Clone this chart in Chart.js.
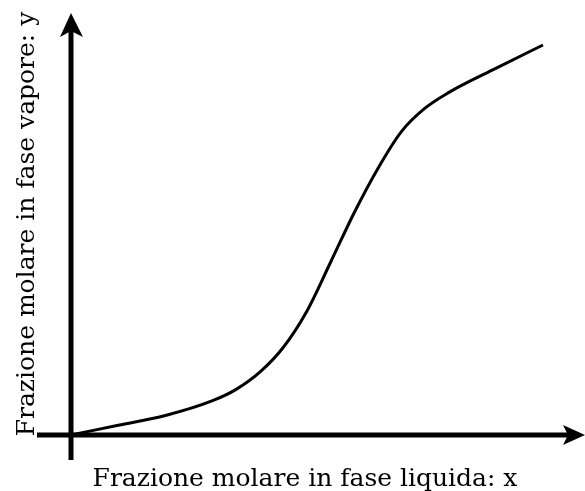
<!DOCTYPE html>
<html>
<head>
<meta charset="utf-8">
<title>Equilibrio liquido-vapore</title>
<script src="https://cdn.jsdelivr.net/npm/chart.js@4"></script>
<style>
  html, body { margin: 0; padding: 0; background: #fff; }
  #wrap { width: 585px; height: 491px; }
</style>
</head>
<body>
<div id="wrap"><canvas id="xyChart" width="585" height="491"></canvas></div>
<script>
// curve, x = liquid fraction, y = vapour fraction
const xLiquid = [0, 0.1, 0.2, 0.3, 0.35, 0.4, 0.45, 0.5, 0.55, 0.6, 0.65, 0.7, 0.75, 0.8, 0.9, 1];
const yVapour = [0, 0.025, 0.05, 0.088, 0.117, 0.161, 0.225, 0.318, 0.443, 0.57, 0.683, 0.778, 0.838, 0.878, 0.94, 1];

const xTitle = 'Frazione molare in fase liquida: x';
const yTitle = 'Frazione molare in fase vapore: y';

// how far the hand-drawn axes run past the origin
const xAxisStart = -0.072;
const yAxisStart = -0.064;
const yAxisTip = 1.082;

const points = xLiquid.map((x, i) => ({ x: x, y: yVapour[i] }));

// thick axes with arrow heads at value 0 of each scale, plus the two labels
const arrowAxes = {
  id: 'arrowAxes',
  afterDatasetsDraw(chart) {
    const ctx = chart.ctx;
    const xs = chart.scales.x;
    const ys = chart.scales.y;
    const ox = xs.getPixelForValue(0);
    const oy = ys.getPixelForValue(0);
    const xEnd = chart.width;
    const yEnd = ys.getPixelForValue(yAxisTip);

    ctx.save();
    ctx.fillStyle = '#000';
    ctx.strokeStyle = '#000';
    ctx.lineWidth = 5;
    ctx.lineCap = 'butt';

    ctx.beginPath();
    ctx.moveTo(xs.getPixelForValue(xAxisStart), oy);
    ctx.lineTo(xEnd - 12, oy);
    ctx.stroke();

    ctx.beginPath();
    ctx.moveTo(ox, ys.getPixelForValue(yAxisStart));
    ctx.lineTo(ox, yEnd + 14);
    ctx.stroke();

    // arrow on x
    ctx.beginPath();
    ctx.moveTo(xEnd, oy);
    ctx.lineTo(xEnd - 22, oy - 10);
    ctx.lineTo(xEnd - 17, oy);
    ctx.lineTo(xEnd - 22, oy + 10);
    ctx.closePath();
    ctx.fill();

    // arrow on y
    ctx.beginPath();
    ctx.moveTo(ox, yEnd);
    ctx.lineTo(ox - 11, yEnd + 24);
    ctx.lineTo(ox, yEnd + 18);
    ctx.lineTo(ox + 12, yEnd + 24);
    ctx.closePath();
    ctx.fill();

    // axis labels
    ctx.font = '25px "DejaVu Serif", serif';
    ctx.textAlign = 'center';
    ctx.textBaseline = 'alphabetic';
    ctx.fillText(xTitle, 305, 486);

    ctx.translate(34, 224);
    ctx.rotate(-Math.PI / 2);
    ctx.fillText(yTitle, 0, 0);
    ctx.restore();
  }
};

new Chart(document.getElementById('xyChart').getContext('2d'), {
  type: 'line',
  data: {
    datasets: [
      {
        label: 'y(x)',
        data: points,
        borderColor: '#000',
        borderWidth: 3,
        pointRadius: 0,
        fill: false,
        cubicInterpolationMode: 'monotone'
      }
    ]
  },
  options: {
    responsive: false,
    animation: false,
    layout: { padding: 0 },
    plugins: {
      legend: { display: false },
      tooltip: { enabled: false }
    },
    scales: {
      x: {
        type: 'linear',
        display: false,
        min: -0.1504,
        max: 1.089
      },
      y: {
        type: 'linear',
        display: false,
        min: -0.1436,
        max: 1.1154
      }
    }
  },
  plugins: [arrowAxes]
});
</script>
</body>
</html>
